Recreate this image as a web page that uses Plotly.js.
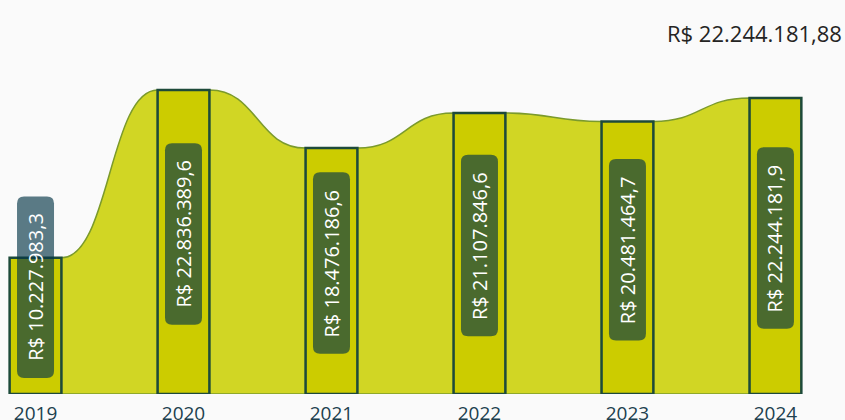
<!DOCTYPE html>
<html>
<head>
<meta charset="utf-8">
<script src="https://cdn.plot.ly/plotly-3.0.1.min.js"></script>
<style>
html,body{margin:0;padding:0;background:#fafafa;}
#chart{width:845px;height:420px;}
</style>
</head>
<body>
<div id="chart"></div>
<script>
// ---- data ----
var years = ['2019', '2020', '2021', '2022', '2023', '2024'];
var values = [10227983.3, 22836389.6, 18476186.6, 21107846.6, 20481464.7, 22244181.9];
var labels = ['R$ 10.227.983,3', 'R$ 22.836.389,6', 'R$ 18.476.186,6', 'R$ 21.107.846,6', 'R$ 20.481.464,7', 'R$ 22.244.181,9'];
var totalLabel = 'R$ 22.244.181,88';

// ---- layout constants ----
var W = 845, H = 420;
var M = {l: 0, r: 0, t: 20, b: 26};
var yMax = 28.1e6;
var barW = 0.35;
var plotH = H - M.t - M.b;
var pxPerUnit = plotH / yMax;
var labelFont = '"Open Sans", "Noto Sans", sans-serif';
var labelSize = 20;

var xs = years.map(function(_, i){ return i; });

// ribbon segments between bars (smooth S-curve)
var shapes = [];
for (var i = 0; i < xs.length - 1; i++) {
  var xa = xs[i] + barW / 2, xb = xs[i + 1] - barW / 2, xm = (xa + xb) / 2;
  var va = values[i], vb = values[i + 1];
  shapes.push({
    type: 'path', layer: 'below', xref: 'x', yref: 'y',
    path: 'M' + xa + ',0 L' + xa + ',' + va + ' C' + xm + ',' + va + ' ' + xm + ',' + vb + ' ' + xb + ',' + vb + ' L' + xb + ',0 Z',
    fillcolor: '#d1d624', line: {color: '#7b9a2c', width: 1.5}
  });
}

// label boxes
var cv = document.createElement('canvas').getContext('2d');
cv.font = labelSize + 'px ' + labelFont;
var annotations = [];
labels.forEach(function(t, i) {
  var tw = cv.measureText(t).width;
  var bh = tw + 34, bw = 37, r = 7;
  var barPx = values[i] * pxPerUnit;
  var c = Math.max((barPx + 16) / 2, 16 + bh / 2);
  var y0 = c - bh / 2, y1 = c + bh / 2, x0 = -bw / 2, x1 = bw / 2;
  var p = 'M' + (x0 + r) + ',' + y0 + ' L' + (x1 - r) + ',' + y0 +
          ' Q' + x1 + ',' + y0 + ' ' + x1 + ',' + (y0 + r) +
          ' L' + x1 + ',' + (y1 - r) + ' Q' + x1 + ',' + y1 + ' ' + (x1 - r) + ',' + y1 +
          ' L' + (x0 + r) + ',' + y1 + ' Q' + x0 + ',' + y1 + ' ' + x0 + ',' + (y1 - r) +
          ' L' + x0 + ',' + (y0 + r) + ' Q' + x0 + ',' + y0 + ' ' + (x0 + r) + ',' + y0 + ' Z';
  shapes.push({
    type: 'path', layer: 'above', xref: 'x', yref: 'y',
    xsizemode: 'pixel', ysizemode: 'pixel', xanchor: xs[i], yanchor: 0,
    path: p, fillcolor: 'rgba(4,53,71,0.65)', line: {width: 0}
  });
  annotations.push({
    x: xs[i], y: 0, xref: 'x', yref: 'y', yshift: c, text: t, textangle: -90,
    showarrow: false, font: {family: labelFont, size: labelSize, color: '#ffffff'}
  });
});

annotations.push({
  xref: 'paper', yref: 'paper', x: 1, y: 1, xanchor: 'right', yanchor: 'middle', yshift: -13, xshift: -1,
  text: totalLabel, showarrow: false,
  font: {family: '"Open Sans", "Noto Sans", sans-serif', size: 22, color: '#252423'}
});

var trace = {
  type: 'bar', x: xs, y: values, width: barW,
  marker: {color: '#cccc00', line: {color: '#1d4a3a', width: 2.5}},
  hoverinfo: 'skip'
};

var layout = {
  width: W, height: H, margin: M,
  paper_bgcolor: '#fafafa', plot_bgcolor: 'rgba(0,0,0,0)',
  showlegend: false,
  xaxis: {
    range: [-0.24, 5.47], tickmode: 'array', tickvals: xs, ticktext: years,
    showgrid: false, zeroline: false, showline: false, ticks: '',
    tickfont: {family: '"Open Sans", "Noto Sans", sans-serif', size: 19, color: '#20404e'},
    ticklabelstandoff: 6, fixedrange: true
  },
  yaxis: {range: [0, yMax], visible: false, fixedrange: true},
  shapes: shapes, annotations: annotations
};

Plotly.newPlot('chart', [trace], layout, {displayModeBar: false, staticPlot: true});
</script>
</body>
</html>
